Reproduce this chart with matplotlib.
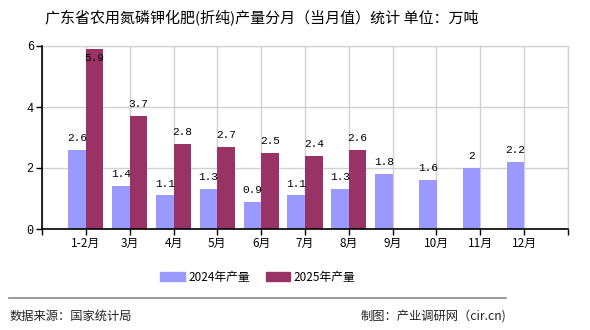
import numpy as np
import matplotlib.pyplot as plt
from matplotlib.patches import Patch

plt.rcParams['font.family'] = ['Noto Sans CJK SC', 'DejaVu Sans']

months = ['1-2月', '3月', '4月', '5月', '6月', '7月', '8月', '9月', '10月', '11月', '12月']
prod_2024 = [2.6, 1.4, 1.1, 1.3, 0.9, 1.1, 1.3, 1.8, 1.6, 2, 2.2]
prod_2025 = [5.9, 3.7, 2.8, 2.7, 2.5, 2.4, 2.6]

c24 = '#9999ff'
c25 = '#993366'
num_font = ['Liberation Mono', 'Noto Sans CJK SC']

fig = plt.figure(figsize=(5.9, 3.3), dpi=100)
ax = fig.add_axes([42 / 590, 1 - 229 / 330, 526 / 590, 183 / 330])

x = np.arange(1, len(months) + 1)
w = 0.4
ax.bar(x - w / 2, prod_2024, width=w, color=c24, zorder=2)
x25 = x[:len(prod_2025)]
ax.bar(x25 + w / 2, prod_2025, width=w, color=c25, zorder=2)

ymax = 6
def label(xs, vals):
    for xi, v in zip(xs, vals):
        txt = f'{v:g}'
        if v > ymax - 0.4:
            ax.annotate(txt, (xi, v), xytext=(0, -2.5), textcoords='offset points',
                        ha='center', va='top', fontsize=8, family=num_font, zorder=3)
        else:
            ax.annotate(txt, (xi, v), xytext=(0, 5), textcoords='offset points',
                        ha='center', va='bottom', fontsize=8, family=num_font, zorder=3)

label(x - w / 2, prod_2024)
label(x25 + w / 2, prod_2025)

ax.set_xlim(0, len(months) + 1)
ax.set_ylim(0, ymax)
ax.set_xticks(np.arange(0, len(months) + 2))
ax.set_xticklabels([''] + months + [''], fontsize=8.5)
ax.set_yticks([0, 2, 4, 6])
ax.set_yticklabels(['0', '2', '4', '6'], family=num_font, fontsize=8.5)
ax.tick_params(axis='both', length=4, width=1, color='black', pad=2)
ax.grid(True, color='#d0d0d0', linewidth=1, zorder=0)
for s in ['top', 'right']:
    ax.spines[s].set_color('#d0d0d0')
for s in ['left', 'bottom']:
    ax.spines[s].set_color('black')
    ax.spines[s].set_linewidth(1.2)
    ax.spines[s].set_zorder(4)

handles = [Patch(color=c24, label='2024年产量'), Patch(color=c25, label='2025年产量')]
fig.legend(handles=handles, loc='center', bbox_to_anchor=(258 / 590, 1 - 277 / 330), ncol=2,
           frameon=False, fontsize=8.5, handlelength=2.1, handleheight=0.9,
           handletextpad=0.3, columnspacing=1.3)

fig.text(45 / 590, 1 - 18 / 330, '广东省农用氮磷钾化肥(折纯)产量分月（当月值）统计 单位：万吨',
         ha='left', va='center', fontsize=10.8)

fig.add_artist(plt.Line2D([9 / 590, 506 / 590], [1 - 298 / 330, 1 - 298 / 330],
                          color='#888888', linewidth=1.2))
fig.text(10 / 590, 1 - 316 / 330, '数据来源：国家统计局', ha='left', va='center', fontsize=8.8, color='#222222')
fig.text(506 / 590, 1 - 316 / 330, '制图：产业调研网（cir.cn)', ha='right', va='center', fontsize=8.8, color='#222222')

fig.savefig('out.png', dpi=100)
